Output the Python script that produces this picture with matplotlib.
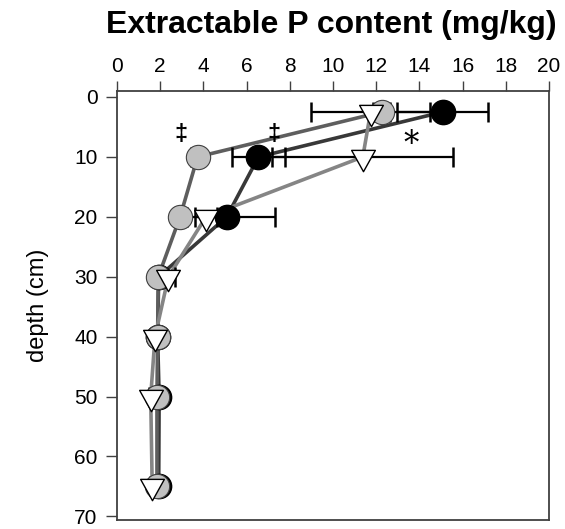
import matplotlib
matplotlib.use("Agg")
import matplotlib.pyplot as plt
from matplotlib.path import Path
import numpy as np

plt.rcParams['font.family'] = ['Liberation Sans', 'DejaVu Sans']

# ---- data ----
depth = [2.5, 10, 20, 30, 40, 50, 65]
gray_vals = [12.25, 3.73, 2.92, 1.91, 1.88, 1.85, 1.85]
black_vals = [15.08, 6.55, 5.08, 1.93, 1.88, 1.95, 1.93]
tri_vals = [11.74, 11.38, 4.12, 2.38, 1.76, 1.56, 1.63]
gray_err = [0.4, 0.3, 0.3, 0.2, 0.1, 0.1, 0.1]
black_err = [2.1, 1.23, 2.23, 0.3, 0.1, 0.1, 0.1]
tri_err = [2.74, 4.19, 0.5, 0.3, 0.1, 0.1, 0.1]
xticks = [0, 2, 4, 6, 8, 10, 12, 14, 16, 18, 20]
yticks = [0, 10, 20, 30, 40, 50, 60, 70]
annotations = [(2.96, 6.3, '‡'), (7.28, 6.3, '‡'), (13.6, 7.9, '*')]

fig = plt.figure(figsize=(5.65, 5.29), dpi=100)
ax = fig.add_axes([117/565, 1 - 520/529, (549-117)/565, (520-91)/529])

# triangle marker centered on centroid
tri_path = Path([(-1, 0.6), (1, 0.6), (0, -1.2), (-1, 0.6)],
                [Path.MOVETO, Path.LINETO, Path.LINETO, Path.CLOSEPOLY])

# lines
ax.plot(black_vals, depth, color='#383838', lw=2.6, zorder=2, solid_capstyle='butt')
ax.plot(gray_vals, depth, color='#5e5e5e', lw=2.6, zorder=2, solid_capstyle='butt')
ax.plot(tri_vals, depth, color='#858585', lw=2.6, zorder=2, solid_capstyle='butt')

# error bars
for vals, err in [(black_vals, black_err), (gray_vals, gray_err), (tri_vals, tri_err)]:
    ax.errorbar(vals, depth, xerr=err, fmt='none', ecolor='black',
                elinewidth=1.6, capsize=7, capthick=1.8, zorder=3)

# markers
ax.plot(black_vals, depth, linestyle='none', marker='o', ms=17.5,
        mfc='black', mec='black', mew=1, zorder=4)
ax.plot(gray_vals, depth, linestyle='none', marker='o', ms=17.5,
        mfc='#c0c0c0', mec='#404040', mew=0.8, zorder=5)
ax.plot(tri_vals, depth, linestyle='none', marker=tri_path, ms=20.5,
        mfc='white', mec='black', mew=1, zorder=6)

for x, y, s in annotations:
    if s == '*':
        ax.text(x, y, s, ha='center', va='center', fontsize=22,
                family=['DejaVu Serif'], color='black', zorder=7)
    else:
        ax.text(x, y, s, ha='center', va='center', fontsize=17,
                fontweight='bold', color='black', zorder=7)

ax.set_xlim(0, 20)
ax.set_ylim(70.6, -1)
ax.set_xticks(xticks)
ax.set_yticks(yticks)
ax.xaxis.tick_top()
ax.tick_params(axis='x', which='both', top=True, bottom=False, direction='out',
               length=7, width=1, labelsize=15, pad=4, color='#404040')
ax.tick_params(axis='y', which='both', left=True, right=False, direction='out',
               length=8, width=1, labelsize=15, pad=6, color='#404040')
for sp in ax.spines.values():
    sp.set_color('#404040')
    sp.set_linewidth(1.3)

ax.set_ylabel('depth (cm)', fontsize=17, labelpad=18)
fig.text(0.587, 1 - 25/529, 'Extractable P content (mg/kg)', ha='center', va='center',
         fontsize=23, fontweight='bold')

fig.savefig('out.png', dpi=100)
